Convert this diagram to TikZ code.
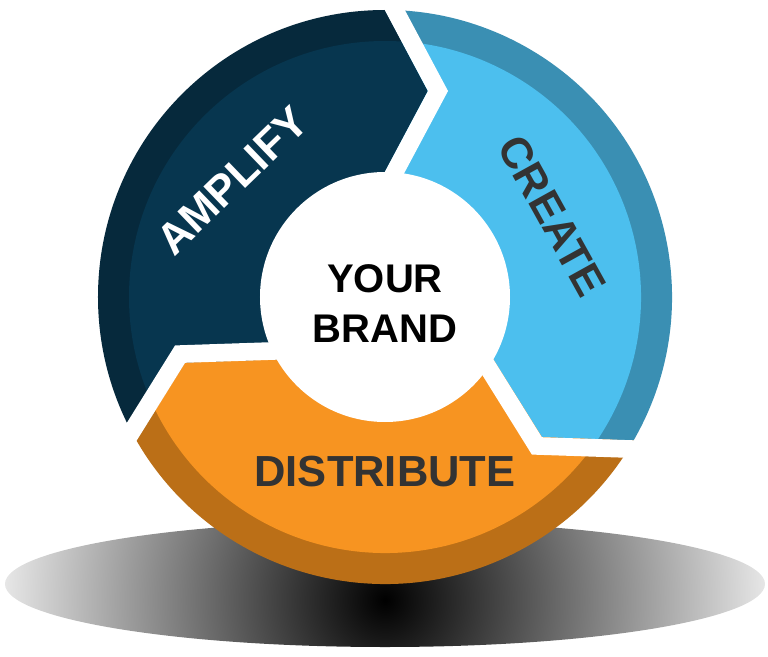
\documentclass[tikz,border=0pt]{standalone}
\usepackage{fontspec}
\setmainfont{Liberation Sans}
\usepackage{tikz}
\definecolor{amplifylight}{RGB}{7,54,79}
\definecolor{amplifydark}{RGB}{6,41,60}
\definecolor{createlight}{RGB}{76,191,238}
\definecolor{createdark}{RGB}{58,143,179}
\definecolor{distlight}{RGB}{247,148,33}
\definecolor{distdark}{RGB}{187,111,23}
\definecolor{textgray}{RGB}{51,51,51}
\pgfdeclareradialshading{shadowfade}{\pgfpoint{0bp}{0bp}}{color(0bp)=(black); color(27bp)=(white); color(50bp)=(white)}

\begin{document}
\begin{tikzpicture}[x=1pt,y=1pt,
  partlabel/.style={font=\fontsize{43.5}{50}\selectfont\bfseries,inner sep=0pt},
  gap/.style={draw=white,line width=17.7pt,line join=miter}
]
\useasboundingbox (-385,-359) rectangle (383,297);

% shadow under the disc
\begin{scope}
  \clip (0,-287) ellipse [x radius=380pt, y radius=63pt];
  \shade[shading=shadowfade] (0,-303) circle [radius=390pt];
\end{scope}

% the three parts of the ring
\foreach \rot/\dark/\light in {0/amplifydark/amplifylight,-120/createdark/createlight,120/distdark/distlight} {
  \begin{scope}[rotate=\rot]
    \clip (0,0) -- (0,125) -- (43,206) -- (0,287) -- (-26,336)
      arc [start angle=94.4, end angle=214.4, radius=337pt]
      -- ([rotate=120]0,287) -- ([rotate=120]43,206) -- ([rotate=120]0,125) -- cycle;
    \fill[\dark] (0,0) circle [radius=287pt];
    \fill[\light] (0,0) circle [radius=256pt];
  \end{scope}
}

% the white gaps
\foreach \rot in {0,-120,120}
  \draw[gap,rotate=\rot] (-3,101) -- (53,206) -- (-3,311);

% the centre
\fill[white] (0,0) circle [radius=125pt];
\node[font=\fontsize{40}{50}\selectfont\bfseries,align=center,inner sep=0pt] (brand) at (0,-7) {YOUR\\BRAND};

% the labels
\node[partlabel,text=white,rotate=44] (amplify) at (142.7:192) {AMPLIFY};
\node[partlabel,text=textgray,rotate=-61] (create) at (25.9:186) {CREATE};
\node[partlabel,text=textgray] (distribute) at (0,-175) {DISTRIBUTE};

\end{tikzpicture}
\end{document}
